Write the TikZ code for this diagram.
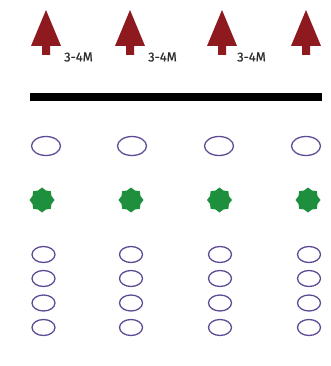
\documentclass[tikz,border=0pt]{standalone}
\usepackage{fontspec}
\setmainfont{Fira Sans}
\newfontfamily\labelfont[FakeBold=0.6]{Fira Sans}
\usetikzlibrary{shapes.geometric}
\definecolor{treered}{HTML}{8E1A1F}
\definecolor{ringpurple}{HTML}{5E4A96}
\definecolor{stargreen}{HTML}{1E8F3C}
\definecolor{labelgray}{HTML}{2E2E2E}
\tikzset{
  tree/.style={fill=treered, draw=none},
  bigring/.style={ellipse, draw=ringpurple, line width=1.3pt, minimum width=29pt, minimum height=19pt, inner sep=0pt},
  smallring/.style={ellipse, draw=ringpurple, line width=1.3pt, minimum width=23pt, minimum height=16pt, inner sep=0pt},
  greenstar/.style={star, star points=8, star point ratio=1.22, fill=stargreen, draw=none, minimum size=25pt, inner sep=0pt},
  dist/.style={font=\labelfont\fontsize{13}{15}\selectfont, text=labelgray, inner sep=0pt, anchor=west},
}
\newcommand{\treeglyph}[2]{%
  \fill[tree] (#1-15,46) -- (#1,10) -- (#1+15,46) -- (#1+4,46) -- (#1+4,55) -- (#1-4,55) -- (#1-4,46) -- cycle;
  \coordinate (#2) at (#1,55);
}
\begin{document}
\begin{tikzpicture}[x=1pt,y=-1pt]
\useasboundingbox (0,0) rectangle (331,366);
\fill[white] (0,0) rectangle (331,366);
% trees
\treeglyph{46}{t1}
\treeglyph{130}{t2}
\treeglyph{222}{t3}
\treeglyph{306}{t4}
% labels
\node[dist] (l1) at (64,57) {3-4M};
\node[dist] (l2) at (148,57) {3-4M};
\node[dist] (l3) at (237,57) {3-4M};
% bar
\fill[black] (30,93) rectangle (322,101);
% top rings
\node[bigring] (r1) at (46,146) {};
\node[bigring] (r2) at (132,146) {};
\node[bigring] (r3) at (219,146) {};
\node[bigring] (r4) at (306,146) {};
% stars
\node[greenstar] (s1) at (42,200) {};
\node[greenstar] (s2) at (131,200) {};
\node[greenstar] (s3) at (219.5,200) {};
\node[greenstar] (s4) at (308,200) {};
% lower rings
\foreach \cx [count=\i] in {43.5,131,220,309}{
  \foreach \cy [count=\j] in {254.5,278.5,303,327.5}{
    \node[smallring] (c\i-\j) at (\cx,\cy) {};
  }
}
\end{tikzpicture}
\end{document}
